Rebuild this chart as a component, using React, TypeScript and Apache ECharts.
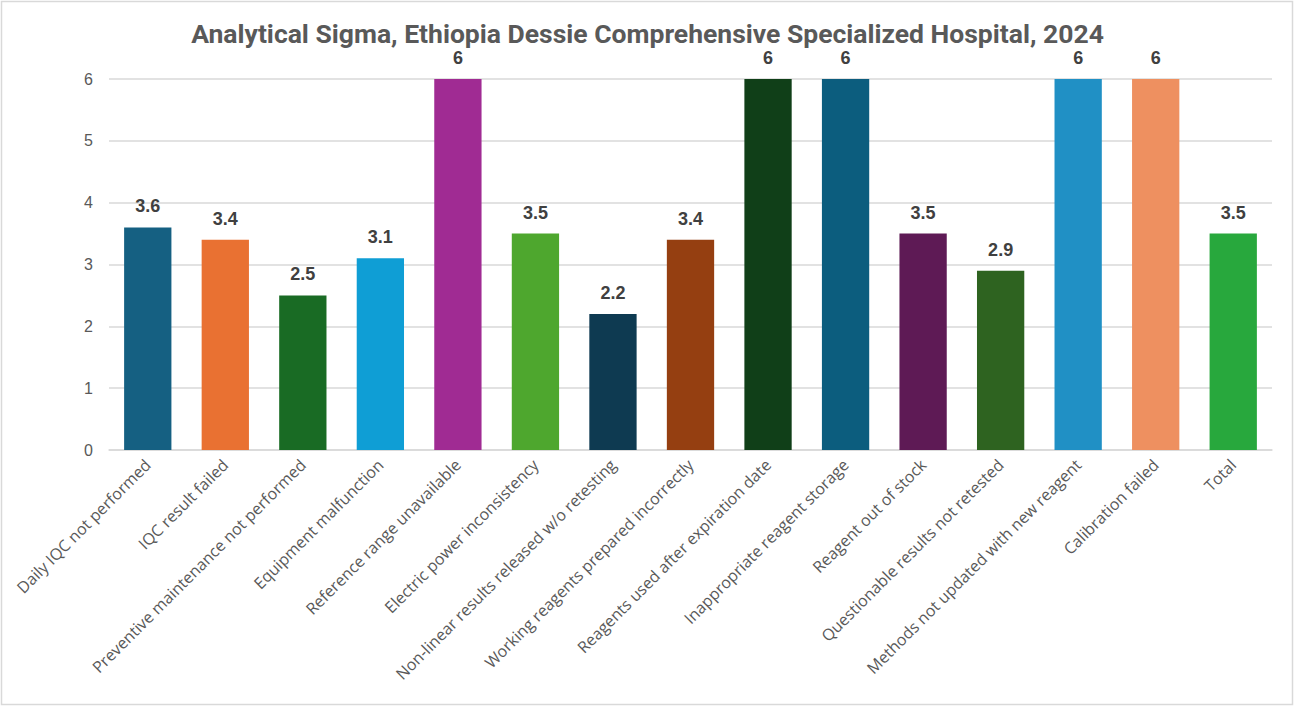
import React, { useEffect, useRef } from "react";
import * as echarts from "echarts";

const categories = [
  "Daily IQC not performed",
  "IQC result failed",
  "Preventive maintenance not performed",
  "Equipment malfunction",
  "Reference range unavailable",
  "Electric power inconsistency",
  "Non-linear results released w/o retesting",
  "Working reagents prepared incorrectly",
  "Reagents used after expiration date",
  "Inappropriate reagent storage",
  "Reagent out of stock",
  "Questionable results not retested",
  "Methods not updated with new reagent",
  "Calibration failed",
  "Total",
];
const sigmaValues = [3.6, 3.4, 2.5, 3.1, 6, 3.5, 2.2, 3.4, 6, 6, 3.5, 2.9, 6, 6, 3.5];
const barColors = [
  "#156082", "#E97132", "#196B24", "#0F9ED5", "#A02B93", "#4EA72E", "#0E3A51", "#953F11",
  "#103F18", "#0C5D7E", "#5E1A55", "#2E6320", "#2090C5", "#EE9060", "#28A83D",
];
const yTicks = { min: 0, max: 6, interval: 1 };
const titleText = "Analytical Sigma, Ethiopia Dessie Comprehensive Specialized Hospital, 2024";

export default function App() {
  const ref = useRef<HTMLDivElement>(null);
  useEffect(() => {
    document.body.style.margin = "0";
    const chart = echarts.init(ref.current!, null, { renderer: "svg" });
    chart.setOption({
      animation: false,
      backgroundColor: "#ffffff",
      title: {
        text: titleText,
        left: "center",
        top: 19,
        padding: 0,
        textStyle: {
          fontFamily: "'Liberation Sans Narrow', 'Roboto', sans-serif",
          fontSize: 26.5,
          lineHeight: 28,
          fontWeight: "bold",
          color: "#595959",
        },
      },
      graphic: [
        {
          type: "rect",
          shape: { x: 1.5, y: 1.5, width: 1291, height: 703 },
          style: { fill: "none", stroke: "#d9d9d9", lineWidth: 1.5 },
          silent: true,
        },
      ],
      grid: { left: 109, right: 23, top: 79, bottom: 257, containLabel: false },
      xAxis: {
        type: "category",
        data: categories,
        axisLine: { lineStyle: { color: "#d9d9d9", width: 1.5 } },
        axisTick: { show: false },
        axisLabel: {
          interval: 0,
          rotate: 45,
          margin: 12,
          color: "#595959",
          fontSize: 16,
          fontFamily: "'Open Sans', 'Liberation Sans', sans-serif",
        },
      },
      yAxis: {
        type: "value",
        min: yTicks.min,
        max: yTicks.max,
        interval: yTicks.interval,
        axisLine: { show: false },
        axisTick: { show: false },
        splitLine: { lineStyle: { color: "#d9d9d9", width: 1.5 } },
        axisLabel: {
          color: "#595959",
          fontSize: 16,
          margin: 16,
          fontFamily: "'Liberation Sans', Arial, sans-serif",
        },
      },
      series: [
        {
          type: "bar",
          barWidth: "61%",
          data: sigmaValues.map((v, i) => ({ value: v, itemStyle: { color: barColors[i] } })),
          label: {
            show: true,
            position: "top",
            distance: 12,
            color: "#404040",
            fontSize: 18,
            lineHeight: 18,
            fontWeight: "bold",
            fontFamily: "'Liberation Sans', Arial, sans-serif",
          },
        },
      ],
    });
    return () => chart.dispose();
  }, []);
  return <div ref={ref} style={{ width: 1295, height: 707 }} />;
}
